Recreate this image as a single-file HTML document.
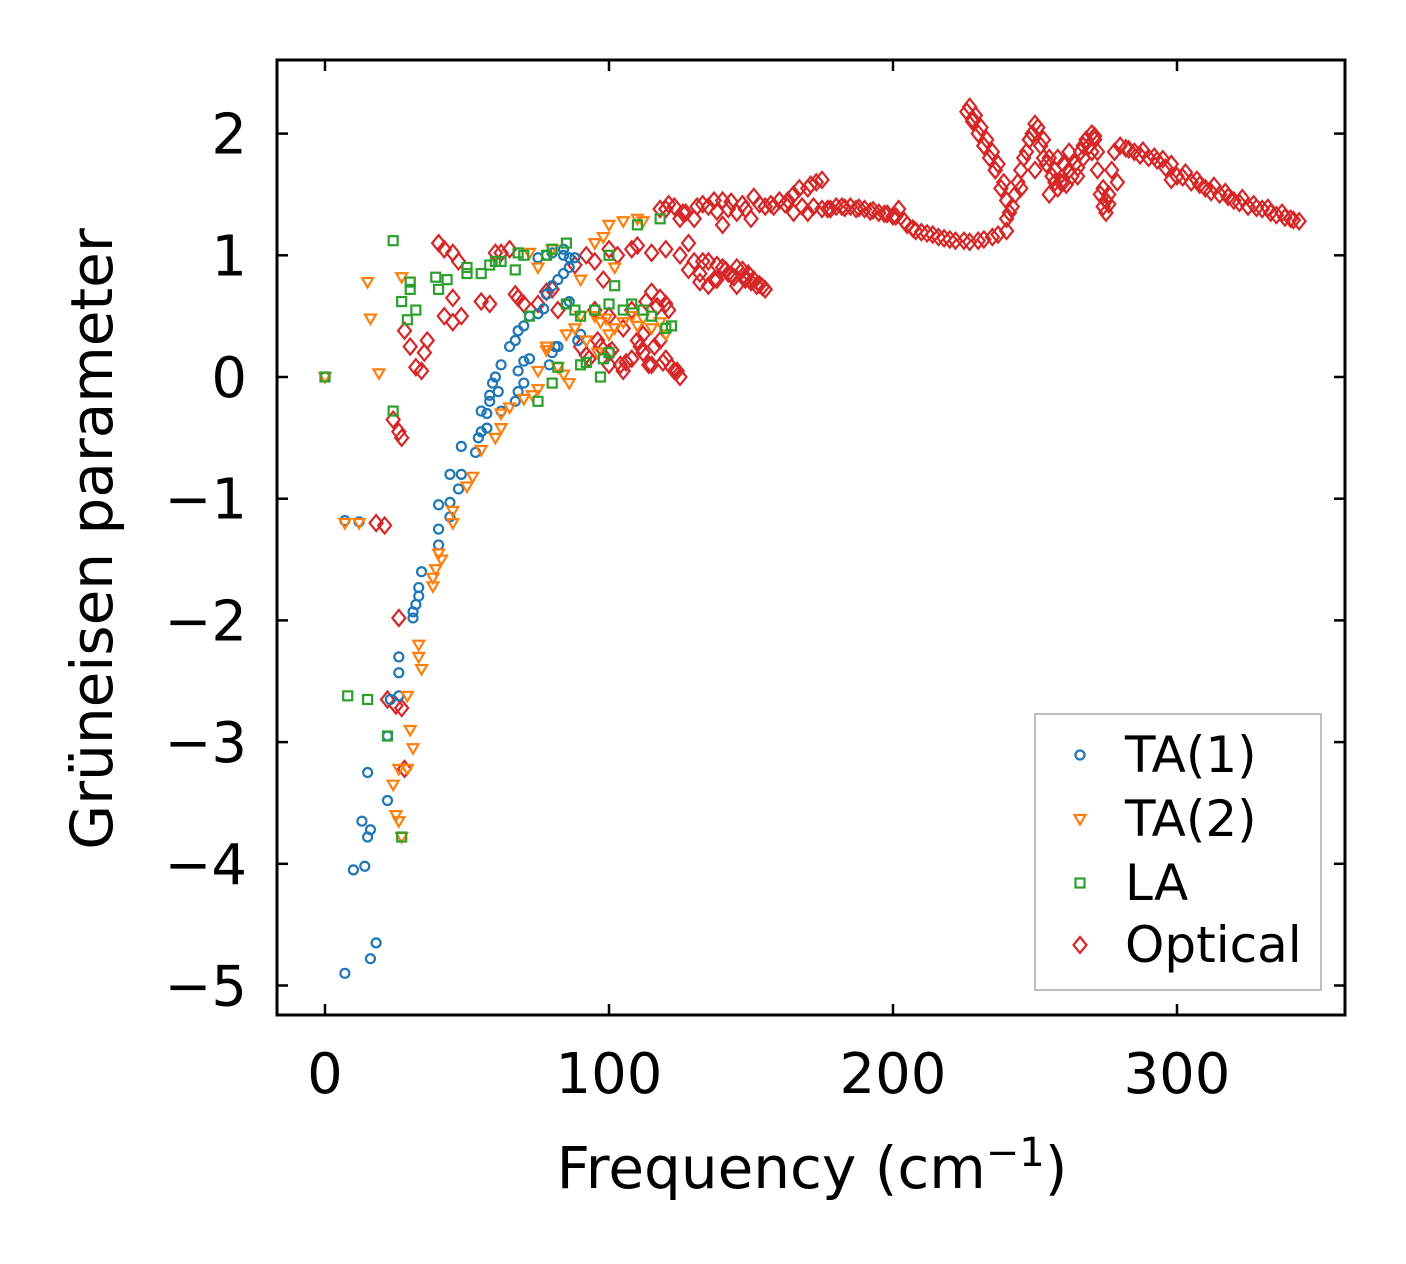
<!DOCTYPE html>
<html><head><meta charset="utf-8"><style>
html,body{margin:0;padding:0;background:#fff;}
svg{display:block;font-family:"DejaVu Sans","Liberation Sans",sans-serif;}
</style></head><body>
<svg id="chart" width="1406" height="1264" viewBox="0 0 1406 1264">
<rect x="0" y="0" width="1406" height="1264" fill="#fff"/>
<g id="marks"></g>
<rect x="277" y="60" width="1068" height="955" fill="none" stroke="#000" stroke-width="3"/>
<g id="ticks"></g>
<text x="812" y="1188" font-size="58" text-anchor="middle">Frequency (cm<tspan dy="-22" font-size="40">−1</tspan><tspan dy="22">)</tspan></text>
<text transform="translate(112,539) rotate(-90)" font-size="58" text-anchor="middle">Grüneisen parameter</text>
<g>
<rect x="1035" y="714" width="286" height="276" fill="#fff" stroke="#aaa" stroke-width="1.5"/>
<g id="legend-items"></g>
</g>
</svg>
<script>
const xTicks=[0,100,200,300];
const yTicks=[2,1,0,-1,-2,-3,-4,-5];
const yTickLabels=["2","1","0","−1","−2","−3","−4","−5"];
const seriesNames=["TA(1)","TA(2)","LA","Optical"];
const ta1X=[0,7,12,7,10,14,13,15,16,16,18,15,22,22,23,26,26,26,31,31,32,33,33,34,40,40,40,44,44,44,47,48,48,53,54,55,55,57,57,58,58,59,60,62,61,62,65,67,68,70,72,75,77,78,80,82,84,86,88,84,80,78,75,68,70,72,68,70,67,79,80,81,82,85,86,90,89,86,84];
const ta1Y=[0,-1.18,-1.19,-4.9,-4.05,-4.02,-3.65,-3.78,-3.72,-4.78,-4.65,-3.25,-3.48,-2.95,-2.65,-2.62,-2.43,-2.3,-1.98,-1.93,-1.87,-1.8,-1.73,-1.6,-1.38,-1.25,-1.05,-1.15,-1.03,-0.8,-0.92,-0.8,-0.57,-0.62,-0.5,-0.45,-0.28,-0.42,-0.3,-0.2,-0.15,-0.05,0,0.1,-0.12,-0.28,0.25,0.3,0.38,0.42,0.5,0.52,0.56,0.68,0.75,0.8,0.85,0.9,0.98,1.0,1.02,1.0,0.98,0.05,0.13,0.15,-0.12,-0.05,-0.2,0.1,0.2,0.25,0.25,0.6,0.62,0.35,0.3,0.98,1.05];
const ta2X=[0,7,12,15,16,19,27,24,26,25,26,27,29,29,30,31,33,33,34,38,38,39,41,40,45,45,50,52,55,60,62,62,65,70,73,75,75,78,82,84,86,88,90,92,95,97,100,102,105,108,110,112,115,118,120,85,95,98,100,102,105,110,112,90,80,72,75,78,96,99];
const ta2Y=[0,-1.2,-1.2,0.78,0.48,0.03,0.82,-3.35,-3.22,-3.6,-3.65,-3.78,-3.22,-2.62,-2.9,-3.05,-2.2,-2.3,-2.4,-1.72,-1.65,-1.58,-1.5,-1.45,-1.2,-1.1,-0.9,-0.82,-0.6,-0.5,-0.42,-0.3,-0.25,-0.18,-0.15,-0.1,0.05,0.22,0.08,0.02,-0.05,0.4,0.5,0.3,0.5,0.45,0.35,0.4,0.45,0.5,0.42,0.48,0.4,0.45,0.35,0.35,1.1,1.15,1.25,0.9,1.28,1.3,1.28,0.8,1.05,1.02,0.9,0.25,0.2,0.48];
const laX=[0,8,15,22,24,24,27,27,29,30,30,32,39,40,43,50,50,55,58,60,62,67,68,70,72,75,78,80,85,82,80,85,88,90,92,95,97,98,100,100,102,105,108,110,112,115,118,120,122,100,90];
const laY=[0,-2.62,-2.65,-2.95,-0.28,1.12,-3.78,0.62,0.47,0.78,0.72,0.55,0.82,0.72,0.8,0.9,0.85,0.85,0.92,0.95,0.95,0.88,1.02,1.0,0.5,-0.2,1.0,1.05,1.1,0.08,-0.05,0.6,0.55,0.5,0.12,0.55,0.0,0.15,0.2,0.6,0.75,0.55,0.6,1.25,0.55,0.5,1.3,0.4,0.42,1.0,0.1];
const optX=[40,42,45,47,42,45,48,45,28,30,32,34,35,36,24,26,27,18,21,22,25,27,26,28,55,58,60,62,65,67,68,70,75,78,80,82,88,92,95,98,100,103,108,110,115,120,125,90,93,97,100,105,108,110,112,115,118,120,123,125,115,118,120,108,105,100,95,130,132,135,138,140,142,145,148,150,152,155,135,145,128,125,130,140,145,150,155,160,165,170,175,165,170,175,180,185,190,195,200,202,205,208,212,216,220,225,230,235,240,227,229,231,233,235,237,239,240,241,243,245,247,249,251,252,254,256,258,260,262,264,266,268,270,272,273,274,275,276,277,278,280,285,290,293,296,300,305,310,315,320,325,330,335,340,343,245,250,255,260,265,270,275,240,242,262,258,135,140,120,123,126,133,138,143,148,153,158,162,168,172,178,183,188,193,198,228,232,236,248,253,257,267,271,282,287,298,302,308,312,318,322,328,333,338,
118,121,127,131,137,142,147,151,157,163,167,171,173,177,182,187,192,197,201,204,207,210,214,218,222,227,232,237,226,228,230,232,234,236,238,244,246,248,250,253,255,257,259,261,263,265,267,269,271,272,274,276,279,283,288,292,295,298,303,307,313,317,323,327,332,337,341,
128,133,137,141,144,147,149,151,153,154,132,138,143,148,100,104,112,116,119,122,124,113,117,121,92,96,101,106,111,114];
const optY=[1.1,1.05,1.02,0.95,0.5,0.45,0.5,0.65,0.38,0.25,0.08,0.05,0.2,0.3,-0.35,-0.45,-0.5,-1.2,-1.22,-2.65,-2.7,-2.72,-1.98,-3.22,0.62,0.6,1.02,1.02,1.05,0.68,0.65,0.6,0.6,0.7,0.72,0.55,0.92,1.0,0.95,0.8,1.05,1.0,1.05,1.08,1.02,1.05,1.0,0.25,0.15,0.25,0.1,0.05,0.15,0.3,0.2,0.1,0.3,0.15,0.05,0.0,0.7,0.65,0.6,0.55,0.4,0.5,0.55,0.95,0.85,0.75,0.8,0.9,0.85,0.9,0.8,0.78,0.75,0.72,0.95,0.75,1.1,1.3,1.3,1.25,1.35,1.3,1.4,1.45,1.5,1.55,1.62,1.35,1.35,1.38,1.4,1.4,1.38,1.35,1.32,1.38,1.25,1.2,1.18,1.15,1.13,1.12,1.12,1.15,1.2,2.22,2.15,2.05,1.95,1.85,1.75,1.6,1.45,1.35,1.5,1.7,1.85,2.0,2.05,1.9,1.75,1.65,1.55,1.6,1.7,1.75,1.85,1.95,2.0,1.7,1.5,1.4,1.35,1.5,1.7,1.85,1.9,1.85,1.8,1.78,1.72,1.65,1.6,1.55,1.5,1.45,1.4,1.38,1.33,1.3,1.28,1.55,1.7,1.5,1.75,1.65,1.85,1.45,1.3,1.4,1.85,1.8,1.4,1.45,1.38,1.4,1.35,1.42,1.36,1.44,1.38,1.42,1.4,1.42,1.4,1.4,1.38,1.39,1.39,1.37,1.34,2.12,1.9,1.7,1.95,1.8,1.6,1.9,1.95,1.88,1.82,1.62,1.64,1.58,1.52,1.48,1.43,1.39,1.35,1.31,
1.38,1.42,1.35,1.4,1.45,1.38,1.42,1.48,1.42,1.45,1.55,1.58,1.6,1.38,1.4,1.38,1.36,1.34,1.32,1.28,1.22,1.19,1.17,1.14,1.12,1.11,1.13,1.17,2.18,2.1,2.0,1.9,1.8,1.7,1.55,1.6,1.8,1.95,2.08,1.95,1.8,1.7,1.6,1.58,1.65,1.72,1.8,1.9,1.98,1.85,1.55,1.42,1.6,1.87,1.86,1.81,1.79,1.75,1.68,1.62,1.57,1.52,1.47,1.42,1.39,1.35,1.29,
0.88,0.95,0.8,0.88,0.82,0.88,0.85,0.8,0.76,0.74,0.78,0.92,0.84,0.82,0.2,0.1,0.35,0.25,0.12,0.08,0.05,0.62,0.58,0.55,0.18,0.3,0.22,0.12,0.25,0.1];

const NS="http://www.w3.org/2000/svg";
const X0=277,X1=1345,Y0=60,Y1=1015;
function xs(v){return 325+v*2.84;}
function ys(v){return 377-v*121.7;}
const colors=["#1f77b4","#ff7f0e","#2ca02c","#d62728"];
function mk(type,cx,cy,col,parent,name){
  let el;
  if(type===0){el=document.createElementNS(NS,"circle");el.setAttribute("cx",cx);el.setAttribute("cy",cy);el.setAttribute("r",4.5);}
  else if(type===1){el=document.createElementNS(NS,"polygon");el.setAttribute("points",`${cx-5.5},${cy-4} ${cx+5.5},${cy-4} ${cx},${cy+5.5}`);}
  else if(type===2){el=document.createElementNS(NS,"rect");el.setAttribute("x",cx-4.5);el.setAttribute("y",cy-4.5);el.setAttribute("width",9);el.setAttribute("height",9);}
  else {el=document.createElementNS(NS,"polygon");el.setAttribute("points",`${cx},${cy-8} ${cx+6.5},${cy} ${cx},${cy+8} ${cx-6.5},${cy}`);}
  el.setAttribute("fill","none");el.setAttribute("stroke",col);el.setAttribute("stroke-width",2.2);
  
  
  parent.appendChild(el);
}
const marks=document.getElementById("marks");
const all=[[ta1X,ta1Y],[ta2X,ta2Y],[laX,laY],[optX,optY]];
const order=[3,0,1,2];
order.forEach(s=>{
  const g=document.createElementNS(NS,"g");
  
  
  marks.appendChild(g);
  const [xa,ya]=all[s];
  for(let i=0;i<Math.min(xa.length,ya.length);i++) mk(s,xs(xa[i]),ys(ya[i]),colors[s],g,'point');
});
const tg=document.getElementById("ticks");
function line(x1,y1,x2,y2,name){const l=document.createElementNS(NS,"line");l.setAttribute("x1",x1);l.setAttribute("y1",y1);l.setAttribute("x2",x2);l.setAttribute("y2",y2);l.setAttribute("stroke","#000");l.setAttribute("stroke-width",2.5);
  
  
  tg.appendChild(l);}
function txt(x,y,s,anchor,name,size){const t=document.createElementNS(NS,"text");t.setAttribute("x",x);t.setAttribute("y",y);t.setAttribute("text-anchor",anchor);t.setAttribute("font-size",size||56);t.textContent=s;
  
  
  return t;}
xTicks.forEach(v=>{const x=xs(v);line(x,Y1,x,Y1-11,'x-tick');line(x,Y0,x,Y0+11,'x-tick-top');tg.appendChild(txt(x,1093,String(v),"middle",'x-tick-label'));});
yTicks.forEach((v,i)=>{const y=ys(v);line(X0,y,X0+11,y,'y-tick');line(X1,y,X1-11,y,'y-tick-right');tg.appendChild(txt(247,y+20,yTickLabels[i],"end",'y-tick-label'));});
const lg=document.getElementById("legend-items");
const ly=[755,819,883,945];
seriesNames.forEach((n,i)=>{
  const g=document.createElementNS(NS,"g");
  
  
  lg.appendChild(g);
  mk(i,1080,ly[i],colors[i],g,'legend-marker');
  g.appendChild(txt(1125,ly[i]+17,n,"start",'legend-label',50));
});
</script>
</body></html>
